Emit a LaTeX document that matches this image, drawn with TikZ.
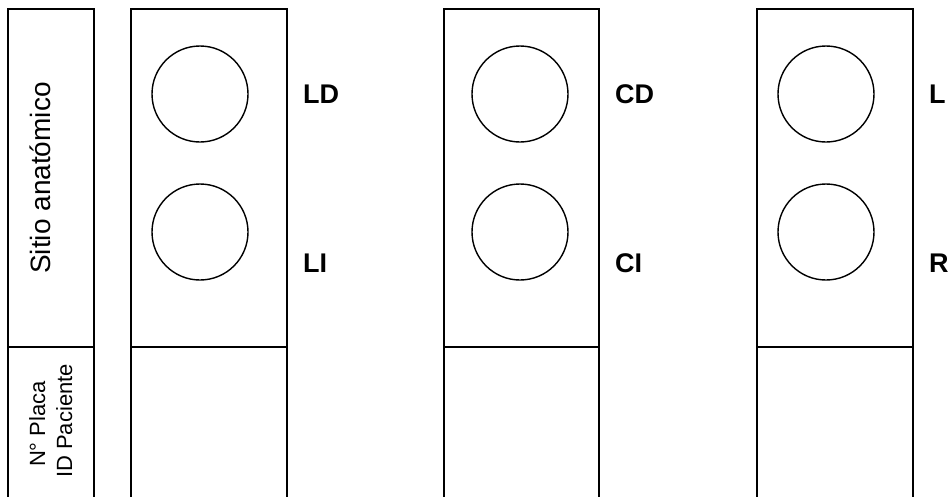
\documentclass[tikz,border=0pt]{standalone}
\usepackage{fontspec}
\setmainfont{Liberation Sans}
\begin{document}
\begin{tikzpicture}[x=1pt,y=-1pt,
  frame/.style={draw=black,line width=2.2pt},
  well/.style={draw=black,line width=1.4pt},
  sidelabel/.style={anchor=base west,inner sep=0pt,font=\fontsize{27}{32}\selectfont\bfseries},
  vlabel/.style={rotate=90,anchor=base,inner sep=0pt}]
\useasboundingbox (0,0) rectangle (950,496);
\clip (0,0) rectangle (950,496);
% left header strip
\draw[frame] (8,520) -- (8,9) -- (94,9) -- (94,520);
\draw[frame] (8,347) -- (94,347);
\node[vlabel,font=\fontsize{28}{33}\selectfont] (sitio) at (50,178) {Sitio anatómico};
\node[vlabel,font=\fontsize{22}{26}\selectfont] (placa) at (45,424) {N° Placa};
\node[vlabel,font=\fontsize{22}{26}\selectfont] (idpac) at (72,421) {ID Paciente};
% three plates
\foreach \xl/\xr/\cx/\ta/\tb [count=\i] in {131/287/200/LD/LI, 444/599/520/CD/CI, 757/913/826/L/R}{
  \draw[frame] (\xl,520) -- (\xl,9) -- (\xr,9) -- (\xr,520);
  \draw[frame] (\xl,347) -- (\xr,347);
  \draw[well] (\cx,94) circle[radius=48];
  \draw[well] (\cx,232) circle[radius=48];
  \node[sidelabel] (top\i) at (\xr+16,103) {\ta};
  \node[sidelabel] (bot\i) at (\xr+16,272) {\tb};
}
\end{tikzpicture}
\end{document}
